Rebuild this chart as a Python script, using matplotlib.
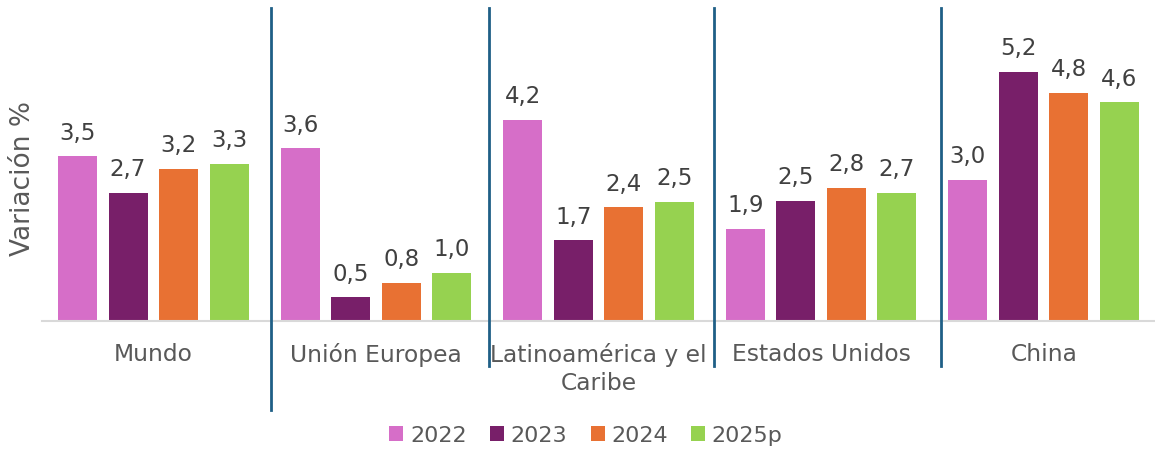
import matplotlib
matplotlib.use("Agg")
import matplotlib.pyplot as plt
import numpy as np

categories = ["Mundo", "Unión Europea", "Latinoamérica y el\nCaribe", "Estados Unidos", "China"]
series_names = ["2022", "2023", "2024", "2025p"]
v2022 = [3.46, 3.63, 4.24, 1.93, 2.97]
v2023 = [2.69, 0.49, 1.69, 2.52, 5.24]
v2024 = [3.20, 0.79, 2.39, 2.80, 4.81]
v2025 = [3.30, 1.00, 2.50, 2.69, 4.60]
series = [v2022, v2023, v2024, v2025]
colors = ["#D66EC8", "#781F69", "#E87133", "#96D250"]

W, H = 1155, 451
fig = plt.figure(figsize=(W / 100, H / 100), dpi=100)
left, right, base_px = 42, 1155, 320.5
px_per_unit = 47.4
ymax = 6.0
ax_h = ymax * px_per_unit
ax = fig.add_axes([left / W, (H - base_px) / H, (right - left) / W, ax_h / H])

x = np.arange(len(categories))
bw = 0.175
step = 0.227
for i, (vals, c, name) in enumerate(zip(series, colors, series_names)):
    pos = x + (i - 1.5) * step
    ax.bar(pos, vals, width=bw, color=c, label=name, zorder=2)
    for xp, v in zip(pos, vals):
        ax.annotate(f"{v:.1f}".replace(".", ","), (xp, v), xytext=(0, 12),
                    textcoords="offset points", ha="center", va="baseline",
                    fontsize=16.5, color="#404040", annotation_clip=False)

ax.set_xlim(-0.5, 4.5)
ax.set_ylim(0, ymax)
for s in ["top", "right", "left"]:
    ax.spines[s].set_visible(False)
ax.spines["bottom"].set_color("#D9D9D9")
ax.spines["bottom"].set_linewidth(1.5)
ax.set_yticks([])
ax.set_xticks(x)
ax.set_xticklabels(categories, fontsize=16.8, color="#595959", linespacing=1.3)
ax.tick_params(axis="x", length=0, pad=16)
ax.set_ylabel("Variación %", fontsize=19, color="#595959", labelpad=4)

# separator lines
sep_x = [0.529, 1.508, 2.519, 3.539]
sep_bottom = [410, 366, 366, 366]
for sx, sb in zip(sep_x, sep_bottom):
    y0 = (base_px - sb) / px_per_unit
    y1 = (base_px - 8) / px_per_unit
    ax.plot([sx, sx], [y0, y1], color="#1F5F86", lw=2, clip_on=False, zorder=3)

leg = fig.legend(loc="center", bbox_to_anchor=(586 / W, 1 - 435.5 / H), ncol=4,
                 frameon=False, fontsize=16, handlelength=0.63, handleheight=0.63,
                 handletextpad=0.3, columnspacing=1.05, labelcolor="#595959")

fig.savefig("out.png", dpi=100)
